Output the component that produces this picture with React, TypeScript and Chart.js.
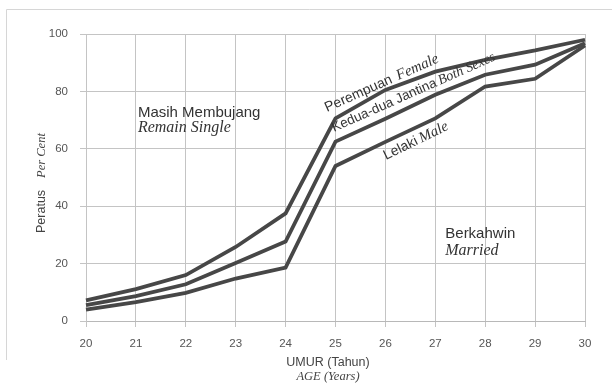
import React, { useEffect, useRef } from "react";
import { Chart, registerables } from "chart.js";

Chart.register(...registerables);

const ages = ["20", "21", "22", "23", "24", "25", "26", "27", "28", "29", "30"];
const female = [7.2, 11.1, 16, 25.8, 37.5, 70.6, 80.5, 86.9, 91, 94.3, 98];
const bothSexes = [5.5, 8.7, 12.8, 20.2, 27.7, 62.5, 70.5, 78.8, 85.8, 89.3, 96.8];
const male = [4, 6.6, 9.8, 14.8, 18.6, 54, 62.4, 70.6, 81.7, 84.4, 96];
const yMin = 0;
const yMax = 100;
const yStep = 20;

const SANS = '"Liberation Sans", Arial, sans-serif';
const SERIF = '"Liberation Serif", "Times New Roman", serif';

type Run = { text: string; font: string };

function drawRuns(ctx: CanvasRenderingContext2D, x: number, y: number, angle: number, runs: Run[], gap = 4) {
  ctx.save();
  ctx.translate(x, y);
  ctx.rotate(angle);
  ctx.textBaseline = "alphabetic";
  ctx.textAlign = "left";
  let off = 0;
  for (const r of runs) {
    ctx.font = r.font;
    ctx.fillText(r.text, off, 0);
    off += ctx.measureText(r.text).width + gap;
  }
  ctx.restore();
}

const textPlugin = {
  id: "annotText",
  beforeDraw(chart: any) {
    const ctx = chart.ctx as CanvasRenderingContext2D;
    ctx.save();
    ctx.strokeStyle = "#d6d6d6";
    ctx.lineWidth = 1;
    ctx.beginPath();
    ctx.moveTo(6.5, 360);
    ctx.lineTo(6.5, 9.5);
    ctx.lineTo(612, 9.5);
    ctx.stroke();
    ctx.restore();
  },
  afterDatasetsDraw(chart: any) {
    const ctx = chart.ctx as CanvasRenderingContext2D;
    const xs = chart.scales.x;
    const ys = chart.scales.y;
    const px = (v: number) => xs.getPixelForValue(v - 20);
    const py = (v: number) => ys.getPixelForValue(v);
    ctx.save();
    ctx.fillStyle = "#333";
    // region labels
    ctx.font = `15px ${SANS}`;
    ctx.textBaseline = "alphabetic";
    ctx.textAlign = "left";
    ctx.fillText("Masih Membujang", px(21.04), py(71.2));
    ctx.font = `italic 16px ${SERIF}`;
    ctx.fillText("Remain Single", px(21.04), py(65.7));
    ctx.font = `15px ${SANS}`;
    ctx.fillText("Berkahwin", px(27.2), py(28.8));
    ctx.font = `italic 16px ${SERIF}`;
    ctx.fillText("Married", px(27.2), py(22.9));

    // line labels
    const a = (-24 * Math.PI) / 180;
    drawRuns(ctx, 327, 112, a, [
      { text: "Perempuan", font: `14px ${SANS}` },
      { text: "Female", font: `italic 15px ${SERIF}` },
    ], 6);
    drawRuns(ctx, 334, 132, a, [
      { text: "Kedua-dua Jantina", font: `13.5px ${SANS}` },
      { text: "Both Sexes", font: `italic 14px ${SERIF}` },
    ], 3);
    drawRuns(ctx, 386, 160, (-26 * Math.PI) / 180, [
      { text: "Lelaki", font: `14px ${SANS}` },
      { text: "Male", font: `italic 15px ${SERIF}` },
    ], 3);

    // axis titles
    ctx.fillStyle = "#444";
    ctx.textAlign = "center";
    ctx.font = `12.5px ${SANS}`;
    ctx.fillText("UMUR (Tahun)", 328, 366);
    ctx.font = `italic 12.5px ${SERIF}`;
    ctx.fillText("AGE (Years)", 328, 380);

    drawRuns(ctx, 45, 233, -Math.PI / 2, [
      { text: "Peratus", font: `12.5px ${SANS}` },
      { text: "Per Cent", font: `italic 12.5px ${SERIF}` },
    ], 12);
    ctx.restore();
  },
};

export default function App() {
  const ref = useRef<HTMLCanvasElement | null>(null);
  useEffect(() => {
    document.body.style.margin = "0";
    const canvas = ref.current!;
    const lineStyle = {
      borderColor: "#474747",
      borderWidth: 3.8,
      pointRadius: 0,
      fill: false,
      tension: 0,
    };
    const chart = new Chart(canvas, {
      type: "line",
      data: {
        labels: ages,
        datasets: [
          { label: "Perempuan Female", data: female, ...lineStyle },
          { label: "Kedua-dua Jantina Both Sexes", data: bothSexes, ...lineStyle },
          { label: "Lelaki Male", data: male, ...lineStyle },
        ],
      },
      options: {
        animation: false,
        responsive: false,
        maintainAspectRatio: false,
        layout: { padding: { left: 0, top: 34, right: 27, bottom: 0 } },
        plugins: { legend: { display: false }, tooltip: { enabled: false } },
        scales: {
          x: {
            type: "category",
            offset: false,
            grid: { color: "#c4c4c4", lineWidth: 1, tickLength: 6, drawTicks: true },
            border: { color: "#b8b8b8" },
            ticks: {
              color: "#555",
              font: { family: SANS, size: 11.5 },
              padding: 10,
              maxRotation: 0,
              autoSkip: false,
            },
            afterFit: (s: any) => {
              s.height = 66;
            },
          },
          y: {
            min: yMin,
            max: yMax,
            grid: { color: "#c4c4c4", lineWidth: 1, tickLength: 6, drawTicks: true },
            border: { color: "#c4c4c4" },
            ticks: {
              stepSize: yStep,
              color: "#555",
              font: { family: SANS, size: 11.5 },
              padding: 12,
            },
            afterFit: (s: any) => {
              s.width = 86;
            },
          },
        },
      },
      plugins: [textPlugin],
    } as any);
    return () => chart.destroy();
  }, []);
  return (
    <div style={{ position: "fixed", left: 0, top: 0, width: 612, height: 387, background: "#fff" }}>
      <canvas ref={ref} width={612} height={387} style={{ display: "block", width: 612, height: 387 }} />
    </div>
  );
}
